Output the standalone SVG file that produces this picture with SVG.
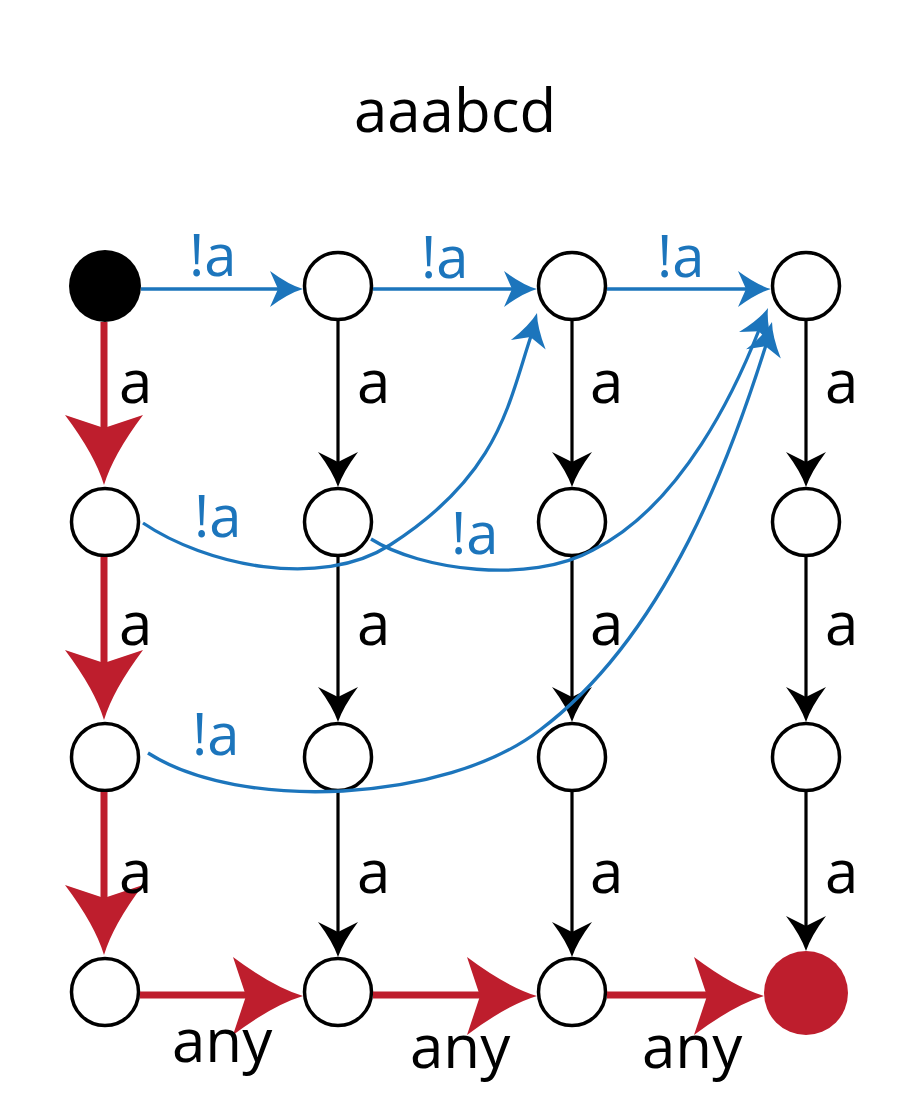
<svg xmlns="http://www.w3.org/2000/svg" xmlns:xlink="http://www.w3.org/1999/xlink" width="905" height="1115" viewBox="0 0 905 1115">
<style>
.node{fill:#fff;stroke:#000;stroke-width:3.5}
.k{fill:none;stroke:#000;stroke-width:3.2}
.b{fill:none;stroke:#1C75BC;stroke-width:3.3}
.r{fill:none;stroke:#BE1E2D;stroke-width:7}
.lbl{font-family:"Open Sans","Liberation Sans",sans-serif;font-size:60px;fill:#000}
.blbl{font-family:"Open Sans","Liberation Sans",sans-serif;font-size:58px;fill:#1C75BC}
</style>
<defs>
<path id="ahR" d="M0,0 Q-30,-9 -70,-39 L-57,0 L-70,39 Q-30,9 0,0 Z" fill="#BE1E2D"/>
<path id="ahK" d="M0,0 Q-15,-5 -35,-20 L-25,0 L-35,20 Q-15,5 0,0 Z" fill="#000"/>
<path id="ahB" d="M0,0 Q-14,-4 -33,-18 L-25,0 L-33,18 Q-14,4 0,0 Z" fill="#1C75BC"/>
</defs>
<rect width="905" height="1115" fill="#fff"/>
<text class="lbl" x="455" y="132" text-anchor="middle">aaabcd</text>

<g id="nodes">
<g id="n11"><circle cx="105" cy="286" r="36" fill="#000"/></g>
<g id="n12"><circle class="node" cx="338" cy="286" r="33.5"/></g>
<g id="n13"><circle class="node" cx="572" cy="286" r="33.5"/></g>
<g id="n14"><circle class="node" cx="806" cy="286" r="33.5"/></g>
<g id="n21"><circle class="node" cx="105" cy="522" r="33.5"/></g>
<g id="n22"><circle class="node" cx="338" cy="522" r="33.5"/></g>
<g id="n23"><circle class="node" cx="572" cy="522" r="33.5"/></g>
<g id="n24"><circle class="node" cx="806" cy="522" r="33.5"/></g>
<g id="n31"><circle class="node" cx="105" cy="757" r="33.5"/></g>
<g id="n32"><circle class="node" cx="338" cy="757" r="33.5"/></g>
<g id="n33"><circle class="node" cx="572" cy="757" r="33.5"/></g>
<g id="n34"><circle class="node" cx="806" cy="757" r="33.5"/></g>
<g id="n41"><circle class="node" cx="105" cy="992" r="33.5"/></g>
<g id="n42"><circle class="node" cx="338" cy="992" r="33.5"/></g>
<g id="n43"><circle class="node" cx="572" cy="992" r="33.5"/></g>
<g id="n44"><circle cx="806" cy="993" r="42" fill="#BE1E2D"/></g>
</g>

<g id="connectors">
<path class="k" d="M338,321V464 M338,557V699 M338,792V934 M572,321V464 M572,557V699 M572,792V934 M806,321V464 M806,557V699 M806,792V927"/>
<use xlink:href="#ahK" transform="translate(338,487) rotate(90)"/>
<use xlink:href="#ahK" transform="translate(338,722) rotate(90)"/>
<use xlink:href="#ahK" transform="translate(338,957) rotate(90)"/>
<use xlink:href="#ahK" transform="translate(572,487) rotate(90)"/>
<use xlink:href="#ahK" transform="translate(572,722) rotate(90)"/>
<use xlink:href="#ahK" transform="translate(572,957) rotate(90)"/>
<use xlink:href="#ahK" transform="translate(806,487) rotate(90)"/>
<use xlink:href="#ahK" transform="translate(806,722) rotate(90)"/>
<use xlink:href="#ahK" transform="translate(806,951) rotate(90)"/>

<path class="r" d="M104,322V431 M104,557V666 M104,792V901 M140,995H249 M373,995H483 M607,995H710"/>
<use xlink:href="#ahR" transform="translate(104,485) rotate(90)"/>
<use xlink:href="#ahR" transform="translate(104,720) rotate(90)"/>
<use xlink:href="#ahR" transform="translate(104,955) rotate(90)"/>
<use xlink:href="#ahR" transform="translate(303,996)"/>
<use xlink:href="#ahR" transform="translate(537,996)"/>
<use xlink:href="#ahR" transform="translate(764,996)"/>

<path class="b" d="M141,289H280 M373,289H514 M607,289H748"/>
<use xlink:href="#ahB" transform="translate(303,289)"/>
<use xlink:href="#ahB" transform="translate(537,289)"/>
<use xlink:href="#ahB" transform="translate(771,289)"/>
<path class="b" d="M143,523 C205,565 320,590 390,545 C499,475 508,405 531,336"/>
<use xlink:href="#ahB" transform="translate(537,313) rotate(-74.7)"/>
<path class="b" d="M371,539 C420,570 530,585 593,550 C683,505 737,386 759,330"/>
<use xlink:href="#ahB" transform="translate(768,308) rotate(-68.3)"/>
<path class="b" d="M148,753 C240,812 445,803 540,730 C668,634 733,450 766,345"/>
<use xlink:href="#ahB" transform="translate(772,322) rotate(-75)"/>
</g>

<g id="labels">
<text class="lbl" x="119" y="403">a</text>
<text class="lbl" x="357" y="403">a</text>
<text class="lbl" x="590" y="403">a</text>
<text class="lbl" x="825" y="403">a</text>
<text class="lbl" x="119" y="645">a</text>
<text class="lbl" x="357" y="645">a</text>
<text class="lbl" x="590" y="645">a</text>
<text class="lbl" x="825" y="645">a</text>
<text class="lbl" x="119" y="893">a</text>
<text class="lbl" x="357" y="893">a</text>
<text class="lbl" x="590" y="893">a</text>
<text class="lbl" x="825" y="893">a</text>
<text class="lbl" x="172" y="1062">any</text>
<text class="lbl" x="410" y="1068">any</text>
<text class="lbl" x="642" y="1068">any</text>
<text class="blbl" x="189" y="276">!a</text>
<text class="blbl" x="421" y="278">!a</text>
<text class="blbl" x="657" y="277">!a</text>
<text class="blbl" x="194" y="537">!a</text>
<text class="blbl" x="451" y="554">!a</text>
<text class="blbl" x="192" y="755">!a</text>
</g>
</svg>
